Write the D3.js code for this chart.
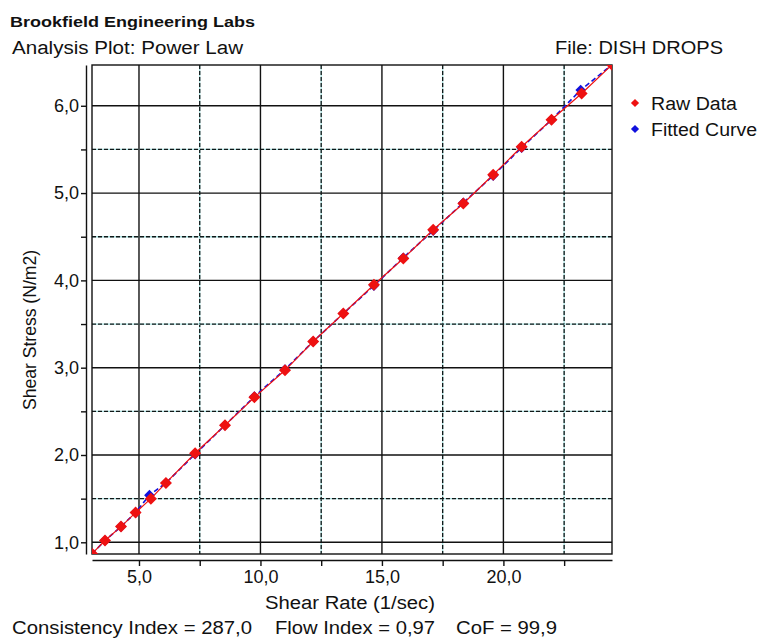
<!DOCTYPE html>
<html>
<head>
<meta charset="utf-8">
<script src="https://cdn.jsdelivr.net/npm/d3@7"></script>
<style>
  html, body { margin: 0; padding: 0; background: #ffffff; }
  svg { display: block; }
  text { font-family: "Liberation Sans", Arial, sans-serif; fill: #111; }
</style>
</head>
<body>
<div id="chart"></div>
<script>
// ---- data ----
const rawX = [3.07, 3.60, 4.26, 4.86, 5.49, 6.11, 7.31, 8.54, 9.75, 11.01, 12.17, 13.41, 14.67, 15.88, 17.11, 18.35, 19.58, 20.75, 21.98, 23.22, 24.47];
const rawY = [0.87, 1.02, 1.18, 1.34, 1.50, 1.68, 2.02, 2.34, 2.66, 2.97, 3.30, 3.62, 3.95, 4.25, 4.58, 4.88, 5.21, 5.53, 5.84, 6.14, 6.47];
const fitX = [3.07, 3.60, 4.26, 4.86, 5.43, 6.11, 7.31, 8.54, 9.75, 11.01, 12.17, 13.41, 14.67, 15.88, 17.11, 18.35, 19.58, 20.75, 21.98, 23.18, 24.47];
const fitY = [0.87, 1.02, 1.18, 1.34, 1.54, 1.68, 2.01, 2.34, 2.67, 2.98, 3.30, 3.62, 3.94, 4.26, 4.57, 4.89, 5.20, 5.52, 5.84, 6.18, 6.47];
const xDomain = [3.066, 24.47];
const yDomain = [0.866, 6.467];
const xMajorTicks = [5, 10, 15, 20];
const xMinorTicks = [7.5, 12.5, 17.5, 22.5];
const yMajorTicks = [1, 2, 3, 4, 5, 6];
const yMinorTicks = [1.5, 2.5, 3.5, 4.5, 5.5];
const seriesNames = ["Raw Data", "Fitted Curve"];
const seriesColors = ["#ee1111", "#1010dd"];
const titleText = "Brookfield Engineering Labs";
const subtitleText = "Analysis Plot: Power Law";
const fileText = "File: DISH DROPS";
const xLabel = "Shear Rate (1/sec)";
const yLabel = "Shear Stress (N/m2)";
const statsTexts = ["Consistency Index = 287,0", "Flow Index = 0,97", "CoF = 99,9"];

// ---- layout ----
const W = 761, H = 639;
const L = 92, R = 612, T = 65, B = 554;
const fmt = v => d3.format(".1f")(v).replace(".", ",");

const svg = d3.select("#chart").append("svg").attr("width", W).attr("height", H);

const x = d3.scaleLinear().domain(xDomain).range([L, R]);
const y = d3.scaleLinear().domain(yDomain).range([B, T]);

svg.append("defs").append("clipPath").attr("id", "plotclip")
  .append("rect").attr("x", L).attr("y", T).attr("width", R - L).attr("height", B - T);

svg.append("rect").attr("x", L).attr("y", T).attr("width", R - L).attr("height", B - T).attr("fill", "#fff");

const grid = svg.append("g");
const minorUnder = "#a8dede", minorDash = "#101818";
xMinorTicks.forEach(v => {
  grid.append("line").attr("x1", x(v)).attr("x2", x(v)).attr("y1", T).attr("y2", B)
    .attr("stroke", minorUnder).attr("stroke-width", 1.3);
  grid.append("line").attr("x1", x(v)).attr("x2", x(v)).attr("y1", T).attr("y2", B)
    .attr("stroke", minorDash).attr("stroke-width", 1.3).attr("stroke-dasharray", "4,2");
});
yMinorTicks.forEach(v => {
  grid.append("line").attr("y1", y(v)).attr("y2", y(v)).attr("x1", L).attr("x2", R)
    .attr("stroke", minorUnder).attr("stroke-width", 1.3);
  grid.append("line").attr("y1", y(v)).attr("y2", y(v)).attr("x1", L).attr("x2", R)
    .attr("stroke", minorDash).attr("stroke-width", 1.3).attr("stroke-dasharray", "4,2");
});
xMajorTicks.forEach(v => {
  grid.append("line").attr("x1", x(v)).attr("x2", x(v)).attr("y1", T).attr("y2", B)
    .attr("stroke", "#111").attr("stroke-width", 1.4);
});
yMajorTicks.forEach(v => {
  grid.append("line").attr("y1", y(v)).attr("y2", y(v)).attr("x1", L).attr("x2", R)
    .attr("stroke", "#111").attr("stroke-width", 1.4);
});
svg.append("rect").attr("x", L).attr("y", T).attr("width", R - L).attr("height", B - T)
  .attr("fill", "none").attr("stroke", "#111").attr("stroke-width", 1.4);

// axes
const xAxis = d3.axisBottom(x).tickValues(xMajorTicks.concat(xMinorTicks).sort((a, b) => a - b))
  .tickSize(6).tickSizeOuter(0).tickPadding(4)
  .tickFormat(v => xMajorTicks.includes(v) ? fmt(v) : "");
const gx = svg.append("g").attr("transform", `translate(0,${B + 6})`).call(xAxis);
gx.select(".domain").attr("stroke", "#111").attr("stroke-width", 1.4);
gx.selectAll(".tick line").attr("stroke", "#111").attr("stroke-width", 1.4);
gx.selectAll(".tick text").style("font-size", "18px").attr("fill", "#111")
  .attr("font-family", "Liberation Sans, Arial, sans-serif");

const yAxis = d3.axisLeft(y).tickValues(yMajorTicks.concat(yMinorTicks).sort((a, b) => a - b))
  .tickSize(5).tickSizeOuter(0).tickPadding(2)
  .tickFormat(v => yMajorTicks.includes(v) ? fmt(v) : "");
const gy = svg.append("g").attr("transform", `translate(${L - 6},0)`).call(yAxis);
gy.select(".domain").attr("stroke", "#111").attr("stroke-width", 1.4);
gy.selectAll(".tick line").attr("stroke", "#111").attr("stroke-width", 1.4);
gy.selectAll(".tick text").style("font-size", "18px").attr("fill", "#111")
  .attr("font-family", "Liberation Sans, Arial, sans-serif");

// series
const plot = svg.append("g").attr("clip-path", "url(#plotclip)");
const fitData = fitX.map((v, i) => [v, fitY[i]]);
const rawData = rawX.map((v, i) => [v, rawY[i]]);
const line = d3.line().x(d => x(d[0])).y(d => y(d[1]));

plot.append("path").datum(fitData).attr("d", line).attr("fill", "none")
  .attr("stroke", seriesColors[1]).attr("stroke-width", 1.6).attr("stroke-dasharray", "5,3");
const diamond = d3.symbol().type(d3.symbolSquare);
plot.selectAll(".fitpt").data(fitData).join("path")
  .attr("d", diamond.size(56)())
  .attr("transform", d => `translate(${x(d[0])},${y(d[1])}) rotate(45)`)
  .attr("fill", seriesColors[1]);

plot.append("path").datum(rawData).attr("d", line).attr("fill", "none")
  .attr("stroke", seriesColors[0]).attr("stroke-width", 1.2);
plot.selectAll(".rawpt").data(rawData).join("path")
  .attr("d", diamond.size(72)())
  .attr("transform", d => `translate(${x(d[0])},${y(d[1])}) rotate(45)`)
  .attr("fill", seriesColors[0]);

// legend
const legendY = [103, 129];
const legendLen = [86, 106];
const leg = svg.append("g");
seriesNames.forEach((name, i) => {
  leg.append("path").attr("d", d3.symbol().type(d3.symbolSquare).size(34)())
    .attr("transform", `translate(635,${legendY[i]}) rotate(45)`)
    .attr("fill", seriesColors[i]);
  leg.append("text").attr("x", 651).attr("y", legendY[i] + 7)
    .style("font-size", "18px").attr("textLength", legendLen[i])
    .attr("lengthAdjust", "spacingAndGlyphs").text(name);
});

// titles
svg.append("text").attr("x", 10).attr("y", 27).style("font-size", "14px")
  .style("font-weight", "bold").attr("textLength", 245).attr("lengthAdjust", "spacingAndGlyphs").text(titleText);
svg.append("text").attr("x", 12).attr("y", 54).style("font-size", "18px")
  .attr("textLength", 231).attr("lengthAdjust", "spacingAndGlyphs").text(subtitleText);
svg.append("text").attr("x", 555).attr("y", 54).style("font-size", "18px")
  .attr("textLength", 168).attr("lengthAdjust", "spacingAndGlyphs").text(fileText);

// axis titles
svg.append("text").attr("x", 265).attr("y", 609)
  .style("font-size", "18px").attr("textLength", 170).attr("lengthAdjust", "spacingAndGlyphs").text(xLabel);
svg.append("text").attr("transform", "translate(36,410) rotate(-90)")
  .style("font-size", "18px").attr("textLength", 160).attr("lengthAdjust", "spacingAndGlyphs").text(yLabel);

// stats
const statsX = [12, 275, 456];
const statsLen = [240, 160, 101];
statsTexts.forEach((t, i) => {
  svg.append("text").attr("x", statsX[i]).attr("y", 634).style("font-size", "18px")
    .attr("textLength", statsLen[i]).attr("lengthAdjust", "spacingAndGlyphs").text(t);
});
</script>
</body>
</html>
